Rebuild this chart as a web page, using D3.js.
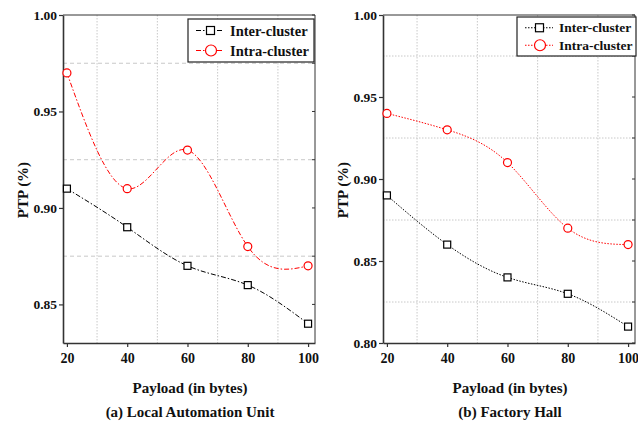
<!DOCTYPE html>
<html>
<head>
<meta charset="utf-8">
<script src="https://cdn.jsdelivr.net/npm/d3@7"></script>
<style>
  body { margin: 0; background: #fff; }
  svg { font-family: "Liberation Serif", "Times New Roman", serif; font-weight: bold; }
</style>
</head>
<body>
<svg id="chart" width="638" height="425"></svg>
<script>
// data
const payload = [20, 40, 60, 80, 100]
const xTicks = [20, 40, 60, 80, 100]
const xMinor = [30, 50, 70, 90]

const interLocal = [0.91, 0.89, 0.87, 0.86, 0.84]
const intraLocal = [0.97, 0.91, 0.93, 0.88, 0.87]
const interFactory = [0.89, 0.86, 0.84, 0.83, 0.81]
const intraFactory = [0.94, 0.93, 0.91, 0.87, 0.86]

const yTicksLocal = [0.85, 0.90, 0.95, 1.00]
const yMinorLocal = [0.875, 0.925, 0.975]
const yTicksFactory = [0.80, 0.85, 0.90, 0.95, 1.00]
const yMinorFactory = [0.825, 0.875, 0.925, 0.975]

const seriesNames = ['Inter-cluster', 'Intra-cluster']
const captions = ['(a) Local Automation Unit', '(b) Factory Hall']

let svg = d3.select('#chart')

let panels = [
  { left: 63, yDomain: [0.83, 1.0], yTicks: yTicksLocal, yMinor: yMinorLocal,
    inter: interLocal, intra: intraLocal, dash: '5,2,1.5,2', hGrid: '4,3',
    legend: { x: 188, y: 19, w: 126, h: 43, row: 20, fs: 14.5 }, caption: captions[0] },
  { left: 383, yDomain: [0.80, 1.0], yTicks: yTicksFactory, yMinor: yMinorFactory,
    inter: interFactory, intra: intraFactory, dash: '1.5,1.5', hGrid: '1.5,1.5',
    legend: { x: 517, y: 17, w: 119, h: 39, row: 17.5, fs: 13.5 }, caption: captions[1] }
]

let plotTop = 15, plotBottom = 343, plotW = 252

panels.forEach(p => {
  let x = d3.scaleLinear().domain([18.7, 102.3]).range([p.left, p.left + plotW])
  let y = d3.scaleLinear().domain(p.yDomain).range([plotBottom, plotTop])
  let g = svg.append('g')

  // grid
  g.selectAll('.vgrid').data(xMinor).join('line')
    .attr('x1', d => x(d)).attr('x2', d => x(d))
    .attr('y1', plotTop).attr('y2', plotBottom)
    .attr('stroke', '#c8c8c8').attr('stroke-width', 1).attr('stroke-dasharray', '1.5,1.5')
  g.selectAll('.hgrid').data(p.yMinor.filter(v => v >= p.yDomain[0])).join('line')
    .attr('x1', p.left).attr('x2', p.left + plotW)
    .attr('y1', d => y(d)).attr('y2', d => y(d))
    .attr('stroke', '#c8c8c8').attr('stroke-width', 1).attr('stroke-dasharray', p.hGrid)

  // frame
  g.append('line').attr('x1', p.left).attr('x2', p.left + plotW).attr('y1', plotTop).attr('y2', plotTop)
    .attr('stroke', '#333').attr('stroke-width', 1)
  g.append('line').attr('x1', p.left + plotW).attr('x2', p.left + plotW).attr('y1', plotTop).attr('y2', plotBottom)
    .attr('stroke', '#333').attr('stroke-width', 1)

  // right side inner ticks
  g.selectAll('.rtick').data(p.yTicks.concat(p.yMinor.filter(v => v >= p.yDomain[0]))).join('line')
    .attr('x1', p.left + plotW - 3).attr('x2', p.left + plotW)
    .attr('y1', d => y(d)).attr('y2', d => y(d))
    .attr('stroke', '#333')

  // axes
  let yAxis = g.append('g').attr('transform', `translate(${p.left},0)`)
    .call(d3.axisLeft(y).tickValues(p.yTicks).tickFormat(d3.format('.2f')).tickSize(4).tickSizeOuter(0))
  yAxis.select('.domain').attr('stroke', '#333').attr('stroke-width', 1.6)
  yAxis.selectAll('.tick line').attr('stroke', '#333').attr('stroke-width', 1.2)
  yAxis.selectAll('text').attr('font-size', 13.5).attr('font-weight', 'bold').attr('fill', '#111')
    .attr('font-family', '"Liberation Serif", serif').attr('x', -6)

  let xAxis = g.append('g').attr('transform', `translate(0,${plotBottom})`)
    .call(d3.axisBottom(x).tickValues(xTicks).tickSize(4).tickSizeOuter(0))
  xAxis.select('.domain').attr('stroke', '#333').attr('stroke-width', 1.6)
  xAxis.selectAll('.tick line').attr('stroke', '#333').attr('stroke-width', 1.2)
  xAxis.selectAll('text').attr('font-size', 14).attr('font-weight', 'bold').attr('fill', '#111')
    .attr('font-family', '"Liberation Serif", serif').attr('y', 10)

  // lines
  let line = d3.line().x((d, i) => x(payload[i])).y(d => y(d)).curve(d3.curveNatural)
  g.append('path').datum(p.inter).attr('d', line)
    .attr('fill', 'none').attr('stroke', '#000').attr('stroke-width', 1).attr('stroke-dasharray', p.dash)
  g.append('path').datum(p.intra).attr('d', line)
    .attr('fill', 'none').attr('stroke', '#ff0000').attr('stroke-width', 1).attr('stroke-dasharray', p.dash)

  g.selectAll('.sq').data(p.inter).join('rect')
    .attr('x', (d, i) => x(payload[i]) - 3.5).attr('y', d => y(d) - 3.5)
    .attr('width', 7).attr('height', 7)
    .attr('fill', '#fff').attr('stroke', '#000').attr('stroke-width', 1.2)
  g.selectAll('.ci').data(p.intra).join('circle')
    .attr('cx', (d, i) => x(payload[i])).attr('cy', d => y(d)).attr('r', 4)
    .attr('fill', '#fff').attr('stroke', '#ff0000').attr('stroke-width', 1.2)

  // legend
  let L = p.legend
  let lg = g.append('g')
  lg.append('rect').attr('x', L.x).attr('y', L.y).attr('width', L.w).attr('height', L.h)
    .attr('fill', '#fff').attr('stroke', '#222').attr('stroke-width', 1.2)
  seriesNames.forEach((name, i) => {
    let cy = L.y + L.h / 2 + (i - 0.5) * L.row
    let col = i === 0 ? '#000' : '#ff0000'
    lg.append('line').attr('x1', L.x + 8).attr('x2', L.x + 36).attr('y1', cy).attr('y2', cy)
      .attr('stroke', col).attr('stroke-dasharray', p.dash)
    if (i === 0) {
      lg.append('rect').attr('x', L.x + 18.5).attr('y', cy - 4).attr('width', 8).attr('height', 8)
        .attr('fill', '#fff').attr('stroke', '#000').attr('stroke-width', 1.2)
    } else {
      lg.append('circle').attr('cx', L.x + 23).attr('cy', cy).attr('r', 5.5)
        .attr('fill', '#fff').attr('stroke', '#ff0000').attr('stroke-width', 1.2)
    }
    lg.append('text').attr('x', L.x + 42).attr('y', cy).attr('dy', '0.35em')
      .attr('font-size', L.fs).attr('fill', '#111').text(name)
  })

  // labels
  g.append('text').attr('x', p.left + plotW / 2 + 1).attr('y', 393)
    .attr('text-anchor', 'middle').attr('font-size', 15).attr('fill', '#111').text('Payload (in bytes)')
  g.append('text').attr('x', p.left + plotW / 2 + 1).attr('y', 417)
    .attr('text-anchor', 'middle').attr('font-size', 15).attr('fill', '#111').text(p.caption)
  g.append('text').attr('transform', `translate(${p.left - 35},190) rotate(-90)`)
    .attr('text-anchor', 'middle').attr('font-size', 15).attr('fill', '#111').text('PTP (%)')
})
</script>
</body>
</html>
